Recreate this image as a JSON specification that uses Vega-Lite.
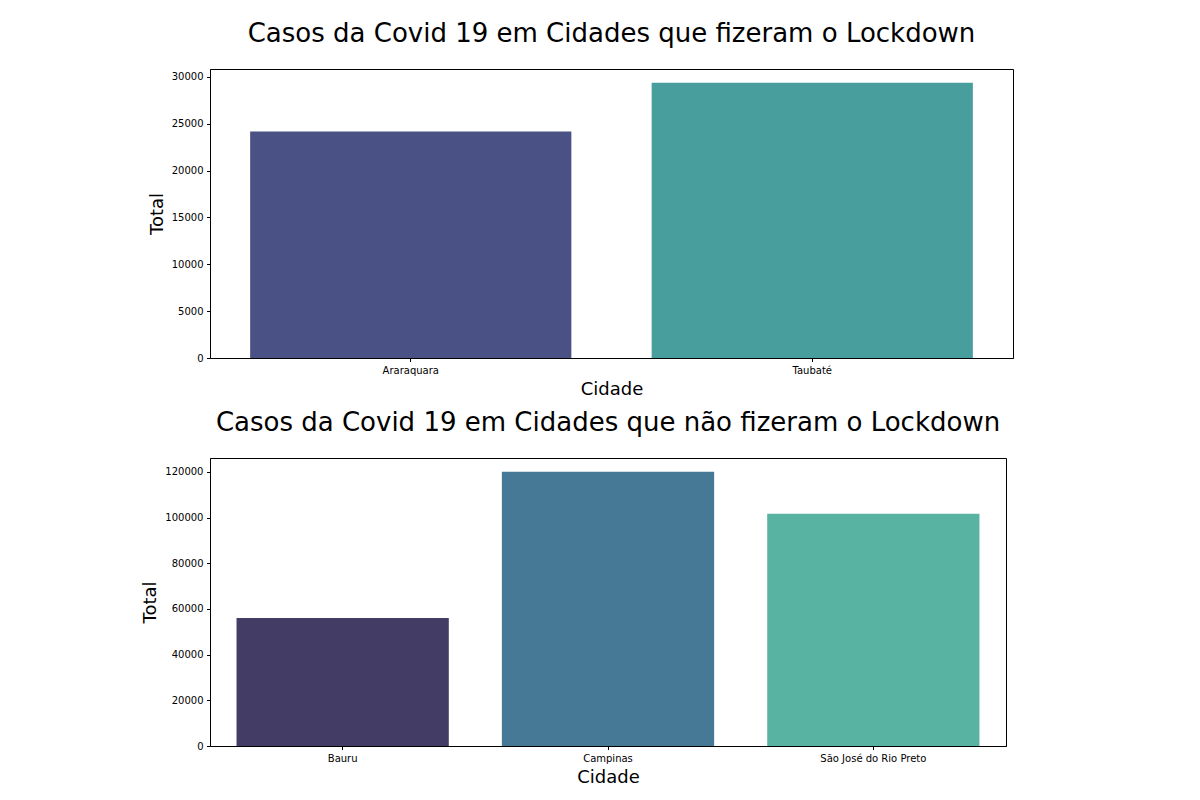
{
  "$schema": "https://vega.github.io/schema/vega-lite/v6.json",
  "padding": {"left": 141, "top": 20, "right": 10, "bottom": 5},
  "spacing": 10,
  "resolve": {"scale": {"color": "independent"}},
  "config": {
    "font": "DejaVu Sans",
    "view": {"stroke": "#000000", "strokeWidth": 1},
    "axis": {
      "domainColor": "#000000",
      "tickColor": "#000000",
      "tickSize": 3.5,
      "labelPadding": 3.5,
      "labelFontSize": 10,
      "labelColor": "#000000",
      "labelFont": "DejaVu Sans",
      "titleFont": "DejaVu Sans",
      "titleFontSize": 18,
      "titleFontWeight": "normal",
      "titleColor": "#000000",
      "grid": false
    },
    "title": {"font": "DejaVu Sans", "fontSize": 26, "fontWeight": "normal", "color": "#000000", "offset": 22, "anchor": "middle"}
  },
  "vconcat": [
    {
      "title": "Casos da Covid 19 em Cidades que fizeram o Lockdown",
      "width": 803,
      "height": 289,
      "data": {"values": [
        {"Cidade": "Araraquara", "Total": 24160},
        {"Cidade": "Taubaté", "Total": 29365}
      ]},
      "mark": {"type": "bar"},
      "encoding": {
        "x": {"field": "Cidade", "type": "nominal", "sort": null,
              "scale": {"paddingInner": 0.2, "paddingOuter": 0.1},
              "axis": {"labelAngle": 0, "titlePadding": 5}},
        "y": {"field": "Total", "type": "quantitative",
              "scale": {"domain": [0, 30833], "nice": false},
              "axis": {"values": [0, 5000, 10000, 15000, 20000, 25000, 30000], "format": "d", "titlePadding": 5}},
        "color": {"field": "Cidade", "type": "nominal", "legend": null,
                  "scale": {"domain": ["Araraquara", "Taubaté"], "range": ["#4a5185", "#489d9d"]}}
      }
    },
    {
      "title": "Casos da Covid 19 em Cidades que não fizeram o Lockdown",
      "width": 796,
      "height": 288,
      "data": {"values": [
        {"Cidade": "Bauru", "Total": 56000},
        {"Cidade": "Campinas", "Total": 120100},
        {"Cidade": "São José do Rio Preto", "Total": 101700}
      ]},
      "mark": {"type": "bar"},
      "encoding": {
        "x": {"field": "Cidade", "type": "nominal", "sort": null,
              "scale": {"paddingInner": 0.2, "paddingOuter": 0.1},
              "axis": {"labelAngle": 0, "titlePadding": 5}},
        "y": {"field": "Total", "type": "quantitative",
              "scale": {"domain": [0, 126105], "nice": false},
              "axis": {"values": [0, 20000, 40000, 60000, 80000, 100000, 120000], "format": "d", "titlePadding": 5}},
        "color": {"field": "Cidade", "type": "nominal", "legend": null,
                  "scale": {"domain": ["Bauru", "Campinas", "São José do Rio Preto"], "range": ["#433c64", "#457995", "#59b3a3"]}}
      }
    }
  ]
}
